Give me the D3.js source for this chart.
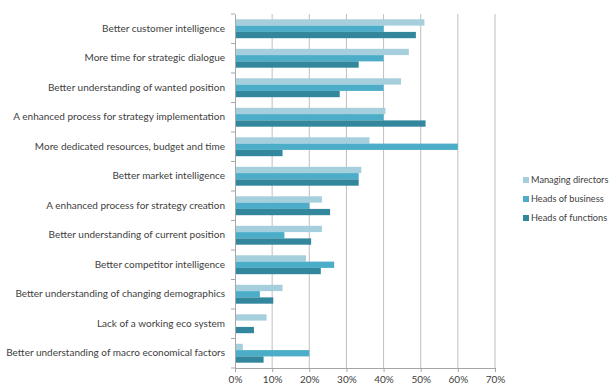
<!DOCTYPE html>
<html>
<head>
<meta charset="utf-8">
<script src="https://cdn.jsdelivr.net/npm/d3@7"></script>
<style>
  html, body { margin: 0; padding: 0; background: #fff; }
  svg text { font-family: Lato, "Open Sans", sans-serif; fill: #404040; }
</style>
</head>
<body>
<svg id="chart" width="610" height="385"></svg>
<script>
const categories = [
  "Better customer intelligence",
  "More time for strategic dialogue",
  "Better understanding of wanted position",
  "A enhanced process for strategy implementation",
  "More dedicated resources, budget and time",
  "Better market intelligence",
  "A enhanced process for strategy creation",
  "Better understanding of current position",
  "Better competitor intelligence",
  "Better understanding of changing demographics",
  "Lack of a working eco system",
  "Better understanding of macro economical factors"
];
const seriesNames = ["Managing directors", "Heads of business", "Heads of functions"];
const managingDirectors = [0.51, 0.468, 0.447, 0.405, 0.362, 0.34, 0.234, 0.234, 0.191, 0.128, 0.085, 0.021];
const headsOfBusiness   = [0.40, 0.40, 0.40, 0.40, 0.60, 0.333, 0.20, 0.133, 0.267, 0.067, 0, 0.20];
const headsOfFunctions  = [0.487, 0.333, 0.282, 0.513, 0.128, 0.333, 0.256, 0.205, 0.231, 0.103, 0.051, 0.077];
const xTicks = [0, 0.1, 0.2, 0.3, 0.4, 0.5, 0.6, 0.7];
const colors = ["#a5cfdc", "#4badc7", "#32879d"];

const seriesValues = [managingDirectors, headsOfBusiness, headsOfFunctions];
const svg = d3.select("#chart");
const plotLeft = 235, plotRight = 495, plotTop = 14, plotBottom = 368;
const fontSize = 10;

const x = d3.scaleLinear().domain([0, 0.7]).range([plotLeft, plotRight]);
const y = d3.scaleBand().domain(categories).range([plotTop, plotBottom]).paddingInner(0.36).paddingOuter(0.18);
const ySub = d3.scaleBand().domain(seriesNames).range([0, y.bandwidth()]);

// vertical gridlines
svg.append("g").selectAll("line").data(xTicks.slice(1)).join("line")
  .attr("x1", d => x(d)).attr("x2", d => x(d))
  .attr("y1", plotTop).attr("y2", plotBottom)
  .attr("stroke", "#bfbfbf").attr("stroke-width", 1);

// bars
const groups = svg.append("g").selectAll("g").data(categories).join("g")
  .attr("transform", c => `translate(0,${y(c)})`);
groups.selectAll("rect")
  .data((c, i) => seriesNames.map((s, k) => ({ s, k, v: seriesValues[k][i] })))
  .join("rect")
  .attr("x", x(0))
  .attr("y", d => ySub(d.s))
  .attr("width", d => x(d.v) - x(0))
  .attr("height", ySub.bandwidth())
  .attr("fill", d => colors[d.k]);

// y axis
const yAxis = d3.axisLeft(y).tickSize(0).tickPadding(10);
const gy = svg.append("g").attr("transform", `translate(${plotLeft},0)`).call(yAxis);
gy.select(".domain").attr("stroke", "#a6a6a6");
gy.selectAll("text").attr("font-size", fontSize).attr("fill", "#404040")
  .style("font-family", "Lato, 'Open Sans', sans-serif");
// category boundary ticks
const bounds = d3.range(categories.length + 1).map(i => plotTop + i * (plotBottom - plotTop) / categories.length);
svg.append("g").selectAll("line").data(bounds).join("line")
  .attr("x1", plotLeft - 4).attr("x2", plotLeft)
  .attr("y1", d => d).attr("y2", d => d)
  .attr("stroke", "#a6a6a6");

// x axis
const xAxis = d3.axisBottom(x).tickValues(xTicks).tickFormat(d3.format(".0%")).tickSize(4).tickPadding(4);
const gx = svg.append("g").attr("transform", `translate(0,${plotBottom})`).call(xAxis);
gx.select(".domain").attr("stroke", "#a6a6a6");
gx.selectAll(".tick line").attr("stroke", "#a6a6a6");
gx.selectAll("text").attr("font-size", fontSize).attr("fill", "#404040")
  .style("font-family", "Lato, 'Open Sans', sans-serif");

// legend
const legend = svg.append("g").attr("transform", "translate(523,177)");
seriesNames.forEach((s, k) => {
  const g = legend.append("g").attr("transform", `translate(0,${k * 19})`);
  g.append("rect").attr("width", 6).attr("height", 6).attr("fill", colors[k]);
  g.append("text").attr("x", 8).attr("y", 3).attr("dy", "0.35em")
    .attr("font-size", 9.2).text(s);
});
</script>
</body>
</html>
